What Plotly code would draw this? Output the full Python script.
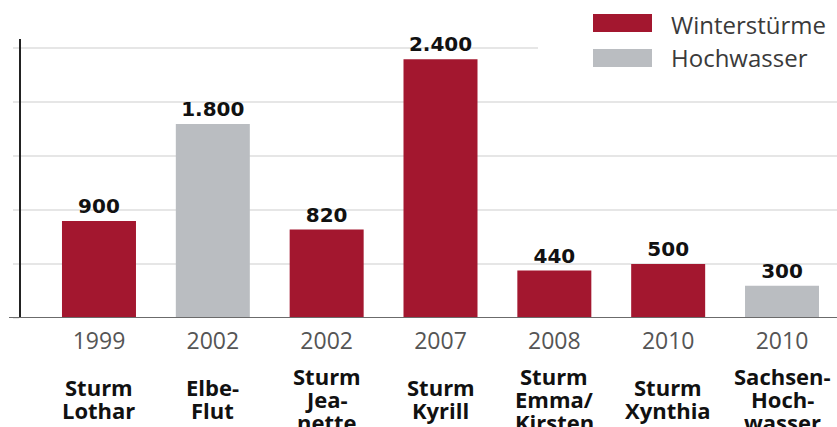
import plotly.graph_objects as go

# ---- data ----
years = ["1999", "2002", "2002", "2007", "2008", "2010", "2010"]
names = ["Sturm\nLothar", "Elbe-\nFlut", "Sturm\nJea-\nnette", "Sturm\nKyrill",
         "Sturm\nEmma/\nKirsten", "Sturm\nXynthia", "Sachsen-\nHoch-\nwasser"]
values = [900, 1800, 820, 2400, 440, 500, 300]
kinds = ["Winterstürme", "Hochwasser", "Winterstürme", "Winterstürme",
         "Winterstürme", "Winterstürme", "Hochwasser"]
legend_labels = ["Winterstürme", "Hochwasser"]

RED = "#A3172F"
GREY = "#BABDC1"
colors = {"Winterstürme": RED, "Hochwasser": GREY}

W, H = 837, 427
L, R, T, B = 21, 0, 39, 109
PW, PH = W - L - R, H - T - B

x = list(range(len(values)))
labels = [f"{v:,}".replace(",", ".") for v in values]

fig = go.Figure()
fig.add_trace(go.Bar(
    x=x, y=values, width=0.65,
    marker=dict(color=[colors[k] for k in kinds], line=dict(width=0)),
    text=labels, textposition="outside", cliponaxis=False,
    textfont=dict(family="DejaVu Sans", size=20, color="#111", weight="bold"),
    showlegend=False, hoverinfo="skip",
))

def px_x(p):
    return (p - L) / PW

def px_y(p):
    return (T + PH - p) / PH

annotations = []
# event names under the years
for i, name in enumerate(names):
    lines = name.split("\n")
    n = len(lines)
    for j, line in enumerate(lines):
        annotations.append(dict(
            x=x[i], xref="x", y=0, yref="paper", yanchor="middle", xanchor="center",
            yshift=-(80.5 + (j - (n - 1) / 2) * 23), text=line, showarrow=False,
            font=dict(family="Open Sans", size=22, color="#111", weight="bold"),
        ))

# manual legend
shapes = []
shapes.append(dict(type="rect", xref="paper", yref="paper", layer="above",
                   x0=px_x(538), x1=1.0, y0=px_y(76), y1=px_y(39),
                   fillcolor="white", line=dict(width=0)))
leg_rows = [(14, 32, 24), (49, 67, 58)]
for lab, (top, bot, cy) in zip(legend_labels, leg_rows):
    shapes.append(dict(type="rect", xref="paper", yref="paper", layer="above",
                       x0=px_x(593), x1=px_x(652), y0=px_y(bot), y1=px_y(top),
                       fillcolor=colors[lab], line=dict(width=0)))
    annotations.append(dict(x=px_x(669), y=px_y(cy), xref="paper", yref="paper",
                            xanchor="left", yanchor="middle", text=lab, showarrow=False,
                            font=dict(family="Open Sans", size=24, color="#3a3a3a")))

# baseline extending slightly left of the y axis
shapes.append(dict(type="line", xref="paper", yref="y", x0=px_x(9), x1=1.0, y0=0, y1=0,
                   line=dict(color="#6b6b6b", width=2), layer="above"))

fig.update_layout(
    width=W, height=H,
    margin=dict(l=L, r=R, t=T, b=B, pad=0),
    paper_bgcolor="white", plot_bgcolor="white",
    xaxis=dict(range=[-0.685, 6.483], tickmode="array", tickvals=x, ticktext=years,
               showgrid=False, zeroline=False, showline=False, ticks="",
               ticklabelstandoff=7,
               tickfont=dict(family="Open Sans", size=23, color="#555"),
               fixedrange=True),
    yaxis=dict(range=[0, 2588], dtick=500, showticklabels=False, showgrid=True,
               gridcolor="#E6E6E6", gridwidth=1.5, zeroline=False,
               showline=True, linecolor="#222", linewidth=1.5,
               ticks="outside", ticklen=6, tickcolor="#E6E6E6", tickwidth=1.5,
               fixedrange=True),
    annotations=annotations, shapes=shapes,
    bargap=0.35,
)

fig.write_html("out.html", config={"displayModeBar": False},
               post_script="document.body.style.margin='0';document.body.style.overflow='hidden';")
